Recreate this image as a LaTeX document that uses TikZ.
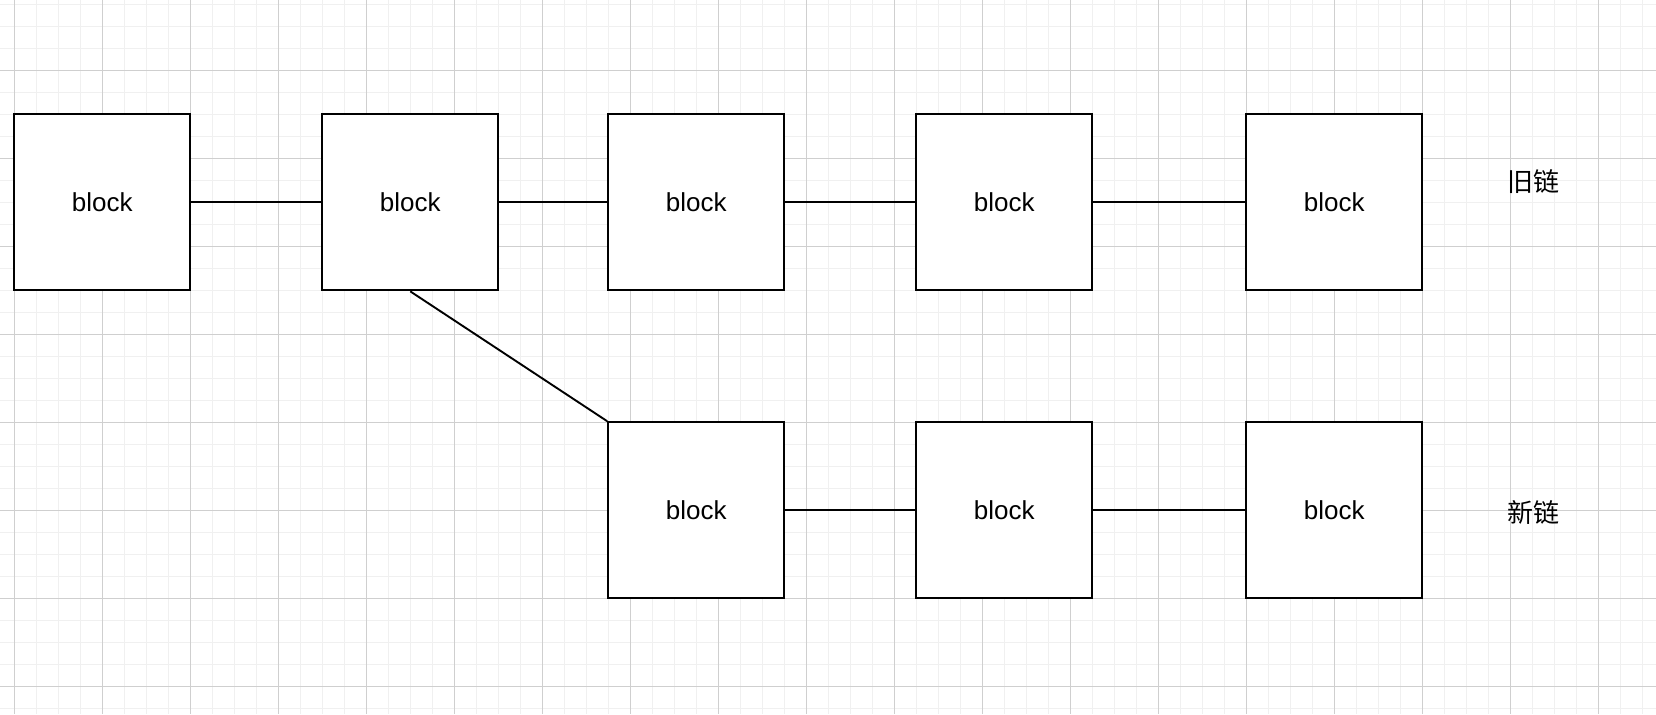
\documentclass[tikz,border=0pt]{standalone}
\usepackage{fontspec}
\setmainfont{Liberation Sans}
\newfontfamily\cjk{Noto Sans CJK SC}

\begin{document}
\begin{tikzpicture}[x=0.02cm,y=-0.02cm,
  minorline/.style={draw=black!6,line width=0.03cm},
  majorline/.style={draw=black!19,line width=0.02cm},
  blockbox/.style={draw,fill=white,line width=0.044cm,minimum size=3.52cm,inner sep=0pt,
    font=\fontsize{14.8pt}{17pt}\selectfont},
  link/.style={line width=0.038cm},
  chainlabel/.style={font=\cjk\fontsize{14.8pt}{17pt}\selectfont}]
\useasboundingbox[fill=white] (0,0) rectangle (1656,714);
%\draw[help lines] (0,0) grid (1656,714);
\foreach \i in {0,...,74}
  \draw[minorline] ({14.3+22*\i},0) -- ++(0,714);
\foreach \i in {0,...,32}
  \draw[minorline] (0,{4.3+22*\i}) -- ++(1656,0);
\foreach \i in {0,...,18}
  \draw[majorline] ({14.3+88*\i},0) -- ++(0,714);
\foreach \i in {0,...,7}
  \draw[majorline] (0,{70.3+88*\i}) -- ++(1656,0);

\foreach \n/\x in {old1/102.3, old2/410.3, old3/696.3, old4/1004.3, old5/1334.3}
  \node[blockbox] (\n) at (\x,202.3) {block};
\foreach \n/\x in {new1/696.3, new2/1004.3, new3/1334.3}
  \node[blockbox] (\n) at (\x,510.3) {block};

\foreach \a/\b in {old1/old2, old2/old3, old3/old4, old4/old5, new1/new2, new2/new3}
  \draw[link] (\a) -- (\b);
\draw[link] (old2.south) -- (new1.north west);

\node[chainlabel] (oldlabel) at (1533,182) {旧链};
\node[chainlabel] (newlabel) at (1533,512) {新链};
\end{tikzpicture}
\end{document}
